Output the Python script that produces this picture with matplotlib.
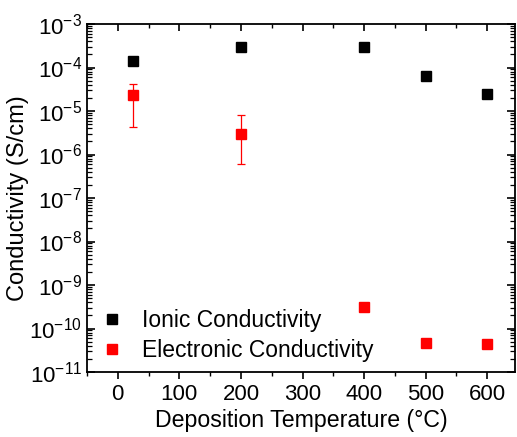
import matplotlib
matplotlib.use("Agg")
import matplotlib.pyplot as plt
from matplotlib.ticker import LogLocator, MultipleLocator, NullFormatter

plt.rcParams['font.family'] = ['Liberation Sans', 'DejaVu Sans']
plt.rcParams['mathtext.fontset'] = 'custom'
plt.rcParams['mathtext.rm'] = 'Liberation Sans'
plt.rcParams['mathtext.it'] = 'Liberation Sans:italic'
plt.rcParams['mathtext.bf'] = 'Liberation Sans:bold'

# Data
temps_ionic = [25, 200, 400, 500, 600]
ionic = [1.42e-4, 2.95e-4, 2.95e-4, 6.4e-5, 2.46e-5]

temps_elec = [25, 200, 400, 500, 600]
electronic = [2.3e-5, 2.95e-6, 3.1e-10, 4.7e-11, 4.4e-11]
elec_err_low = [4.3e-6, 6.0e-7, None, None, None]
elec_err_high = [4.2e-5, 8.1e-6, None, None, None]

xticks = [0, 100, 200, 300, 400, 500, 600]
ydecades = [-11, -10, -9, -8, -7, -6, -5, -4, -3]

fig = plt.figure(figsize=(5.17, 4.37), dpi=100)
ax = fig.add_axes([87/517, (437-372)/437, (515-87)/517, (372-24)/437])

# error bars (only where available)
ex, ey, elo, ehi = [], [], [], []
for t, v, lo, hi in zip(temps_elec, electronic, elec_err_low, elec_err_high):
    if lo is not None:
        ex.append(t); ey.append(v); elo.append(v - lo); ehi.append(hi - v)
ax.errorbar(ex, ey, yerr=[elo, ehi], fmt='none', ecolor='#ff0000', elinewidth=0.9,
            capsize=3, capthick=0.9, zorder=2)

ax.plot(temps_ionic, ionic, linestyle='none', marker='s', markersize=7.2,
        color='black', label='Ionic Conductivity', zorder=3)
ax.plot(temps_elec, electronic, linestyle='none', marker='s', markersize=7.2,
        color='#ff0000', label='Electronic Conductivity', zorder=3)

ax.set_yscale('log')
ax.set_ylim(1e-11, 1e-3)
ax.set_xlim(-50, 645)

ax.set_xticks(xticks)
ax.xaxis.set_minor_locator(MultipleLocator(50))
ax.set_yticks([10.0**d for d in ydecades])
ax.set_yticklabels([r'$\mathregular{10^{%d}}$' % d for d in ydecades])
ax.yaxis.set_minor_locator(LogLocator(base=10, subs=range(2, 10), numticks=20))
ax.yaxis.set_minor_formatter(NullFormatter())

ax.tick_params(axis='x', which='both', direction='out', top=True, labelsize=16)
ax.tick_params(axis='x', which='major', length=5, width=1.2)
ax.tick_params(axis='x', which='minor', length=3, width=1.0)
ax.tick_params(axis='y', which='both', direction='in', right=True, labelsize=16)
ax.tick_params(axis='y', which='major', length=6, width=1.2)
ax.tick_params(axis='y', which='minor', length=3.5, width=0.9)
# top ticks point inward
for t in ax.xaxis.get_major_ticks() + ax.xaxis.get_minor_ticks():
    t.tick2line.set_marker(matplotlib.lines.TICKDOWN)

for s in ax.spines.values():
    s.set_linewidth(1.3)

ax.set_xlabel('Deposition Temperature (°C)', fontsize=16.7, labelpad=3)
ax.set_ylabel('Conductivity (S/cm)', fontsize=17, labelpad=0)

ax.legend(loc='lower left', frameon=False, fontsize=16.5, handlelength=0.6,
          handletextpad=1.0, borderaxespad=0.2, labelspacing=0.32,
          bbox_to_anchor=(0.01, -0.012))

fig.savefig('out.png', dpi=100)
